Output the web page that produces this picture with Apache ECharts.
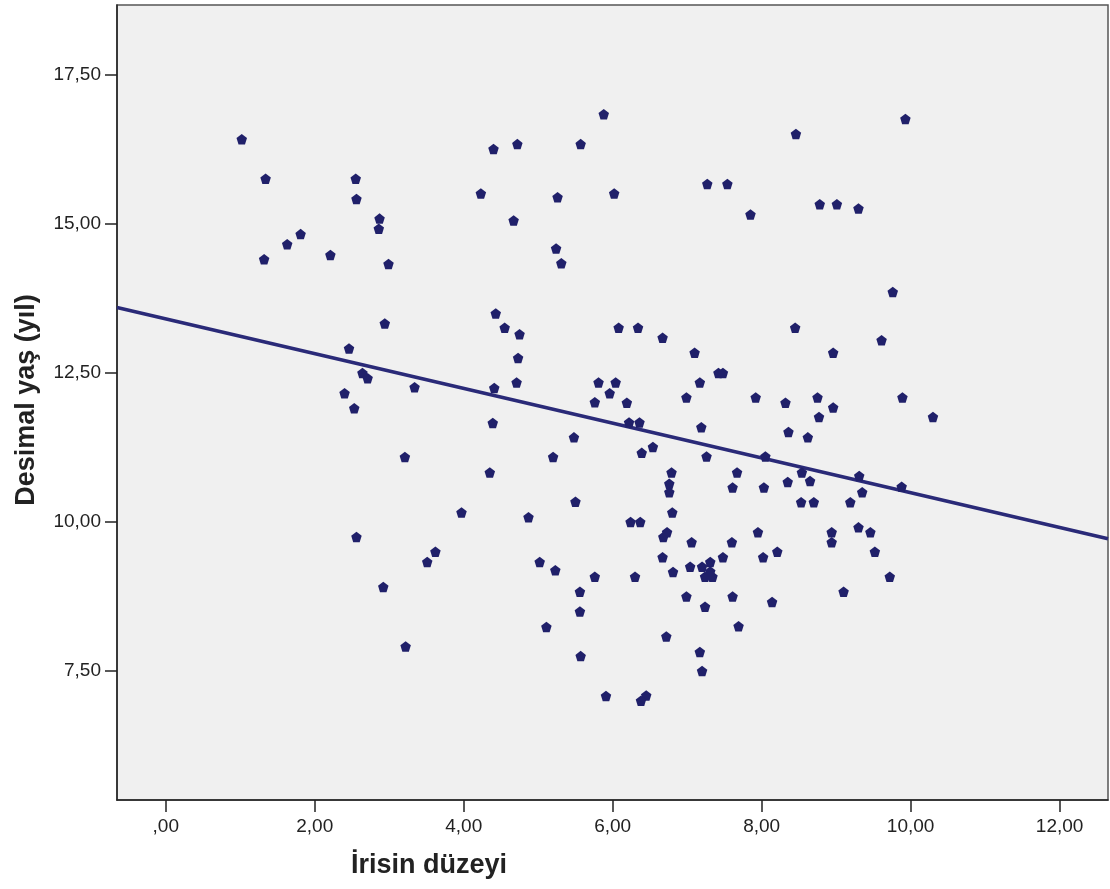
<!DOCTYPE html>
<html><head><meta charset="utf-8">
<script src="https://cdn.jsdelivr.net/npm/echarts@6/dist/echarts.min.js"></script>
<style>html,body{margin:0;padding:0;background:#fff}#c{width:1110px;height:889px}</style>
</head><body><div id="c"></div>
<script>
// İrisin düzeyi (x)
const irisLevel = [
  1.02,1.34,1.32,1.63,1.81,2.21,2.55,2.56,2.87,2.86,2.99,2.94,2.46,2.64,2.71,2.40,2.53,3.34,3.21,3.97,2.56,3.62,3.51,2.92,3.22,
  5.88,4.40,4.72,5.57,4.23,5.26,6.02,4.67,5.24,5.31,4.43,
  9.93,8.46,7.27,7.54,7.85,8.78,9.01,9.30,9.76,
  4.55,4.75,4.73,4.71,4.41,4.39,4.35,6.08,6.34,6.67,7.10,7.17,6.99,7.19,7.26,5.81,6.04,5.96,5.76,6.19,6.22,6.36,5.48,5.20,6.39,6.54,6.79,6.76,6.76,6.80,5.50,4.87,
  8.45,9.61,8.96,7.42,7.48,7.92,8.32,8.75,8.96,8.77,9.89,10.30,8.36,8.62,8.05,7.67,8.54,7.61,8.03,8.35,8.65,9.31,9.35,9.88,8.53,8.70,9.19,
  6.24,6.37,6.68,6.73,7.06,7.60,7.95,8.94,8.94,9.30,9.46,9.52,8.21,8.02,7.48,7.31,7.20,7.04,6.67,6.81,7.24,7.34,7.31,9.72,9.10,8.14,7.61,7.24,6.99,6.30,5.76,5.56,5.56,5.23,5.02,5.11,5.57,6.72,7.17,7.20,7.69,5.91,6.45,6.38
];
// Desimal yaş (yıl) (y)
const decimalAge = [
  16.42,15.76,14.41,14.66,14.83,14.48,15.76,15.42,15.09,14.92,14.33,13.33,12.91,12.50,12.41,12.16,11.91,12.26,11.09,10.16,9.75,9.50,9.33,8.91,7.91,
  16.84,16.26,16.34,16.34,15.51,15.45,15.51,15.06,14.59,14.34,13.50,
  16.76,16.51,15.67,15.67,15.16,15.33,15.33,15.26,13.86,
  13.26,13.15,12.75,12.34,12.25,11.66,10.83,13.26,13.26,13.09,12.84,12.34,12.09,11.59,11.10,12.34,12.34,12.16,12.01,12.00,11.67,11.67,11.42,11.09,11.16,11.26,10.83,10.64,10.50,10.16,10.34,10.08,
  13.26,13.05,12.84,12.50,12.50,12.09,12.00,12.09,11.92,11.76,12.09,11.76,11.51,11.42,11.10,10.83,10.83,10.58,10.58,10.67,10.69,10.77,10.50,10.59,10.33,10.33,10.33,
  10.00,10.00,9.75,9.83,9.66,9.66,9.83,9.83,9.66,9.91,9.83,9.50,9.50,9.41,9.41,9.33,9.25,9.25,9.41,9.16,9.08,9.08,9.17,9.08,8.83,8.66,8.75,8.58,8.75,9.08,9.08,8.83,8.50,9.19,9.33,8.24,7.75,8.08,7.82,7.50,8.25,7.08,7.09,7.00
];
// Fit line (endpoints at the plot edges)
const fitX = [-0.655, 12.65];
const fitY = [13.60, 9.72];
const xTicks = [0, 2, 4, 6, 8, 10, 12];
const yTicks = [7.5, 10, 12.5, 15, 17.5];
const xTitle = 'İrisin düzeyi';
const yTitle = 'Desimal yaş (yıl)';

function fmt(v) {
  let s = Number(v).toFixed(2).replace('.', ',');
  if (s.startsWith('0,')) s = s.slice(1);
  return s;
}
const points = irisLevel.map((x, i) => [x, decimalAge[i]]);
const ink = '#20206a';
const axisInk = '#222';
const font = 'Liberation Sans';
const pent = 'path://M0,-10 L9.51,-3.09 L5.88,8.09 L-5.88,8.09 L-9.51,-3.09 Z';

const chart = echarts.init(document.getElementById('c'));
chart.setOption({
  animation: false,
  backgroundColor: '#ffffff',
  grid: { left: 117, right: 2, top: 5, bottom: 89, show: true, backgroundColor: '#f0f0f0', borderColor: '#555', borderWidth: 1.5 },
  xAxis: {
    type: 'value', min: -0.655, max: 12.65,
    axisLine: { show: true, onZero: false, lineStyle: { color: axisInk, width: 1.5 } },
    axisTick: { show: true, customValues: xTicks, length: 12, lineStyle: { color: axisInk, width: 1.5 } },
    axisLabel: { customValues: xTicks, formatter: fmt, fontSize: 19, fontFamily: font, color: axisInk, margin: 17 },
    splitLine: { show: false }
  },
  yAxis: {
    type: 'value', min: 5.336, max: 18.674,
    axisLine: { show: true, onZero: false, lineStyle: { color: axisInk, width: 1.5 } },
    axisTick: { show: true, customValues: yTicks, length: 12, lineStyle: { color: axisInk, width: 1.5 } },
    axisLabel: { customValues: yTicks, formatter: fmt, fontSize: 19, fontFamily: font, color: axisInk, margin: 16 },
    splitLine: { show: false }
  },
  graphic: [
    { type: 'text', x: 429, y: 866, style: { text: xTitle, fontSize: 27, fontWeight: 'bold', fontFamily: font, fill: axisInk, align: 'center', verticalAlign: 'middle' } },
    { type: 'text', x: 27, y: 400, rotation: Math.PI / 2, style: { text: yTitle, fontSize: 27, fontWeight: 'bold', fontFamily: font, fill: axisInk, align: 'center', verticalAlign: 'middle' } }
  ],
  series: [
    { type: 'line', data: fitX.map((x, i) => [x, fitY[i]]), showSymbol: false, lineStyle: { color: '#2a2a78', width: 3.5 }, z: 2, silent: true },
    { type: 'scatter', data: points, symbol: pent, symbolSize: 10.5, itemStyle: { color: ink, opacity: 1 }, z: 3 }
  ]
});
</script>
</body></html>
